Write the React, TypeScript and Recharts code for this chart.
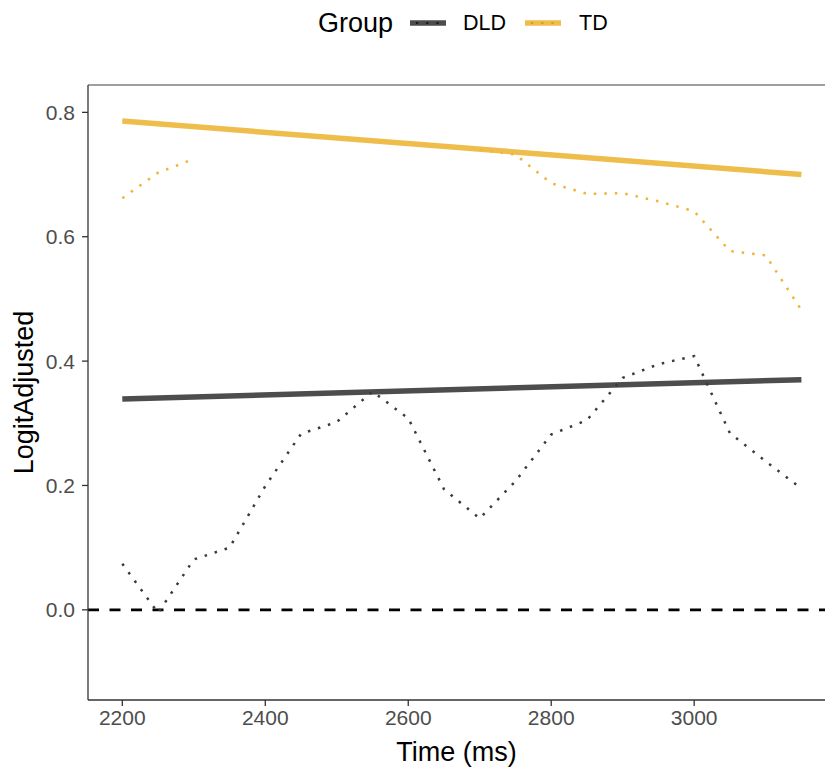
import React from "react";
import {
  LineChart,
  Line,
  XAxis,
  YAxis,
  ReferenceLine,
  Label,
} from "recharts";

// observed group means, 50 ms bins
const times = [
  2200, 2250, 2300, 2350, 2400, 2450, 2500, 2550, 2600, 2650,
  2700, 2750, 2800, 2850, 2900, 2950, 3000, 3050, 3100, 3150,
];
const dldLogit = [
  0.074, -0.005, 0.081, 0.1, 0.199, 0.283, 0.302, 0.351, 0.308, 0.194,
  0.147, 0.207, 0.282, 0.305, 0.373, 0.395, 0.408, 0.284, 0.239, 0.195,
];
// nulls = values above the plotted range (dropped)
const tdLogit = [
  0.662, 0.703, 0.725, null, null, null, null, null, null, null,
  0.74, 0.732, 0.686, 0.669, 0.67, 0.657, 0.641, 0.577, 0.57, 0.482,
];

// linear fits
const fitTimes = [2200, 3150];
const dldFit = [0.339, 0.37];
const tdFit = [0.786, 0.7];

const xTicks = [2200, 2400, 2600, 2800, 3000];
const yTicks = [0, 0.2, 0.4, 0.6, 0.8];
const xDomain = [2152, 3183];
const yDomain = [-0.145, 0.844];

const DLD_COLOR = "#4d4d4d";
const DLD_DOT = "#3a3a3a";
const TD_COLOR = "#efbd4c";
const TD_DOT = "#f0b43a";
const FONT = "'Liberation Sans', Arial, sans-serif";

const observed = times.map((t, i) => ({ time: t, DLD: dldLogit[i], TD: tdLogit[i] }));
const fitted = fitTimes.map((t, i) => ({ time: t, DLD: dldFit[i], TD: tdFit[i] }));

function LegendKey({ solid, dot }: { solid: string; dot: string }) {
  return (
    <svg width={36} height={12} style={{ display: "block" }}>
      <line x1={0} y1={6} x2={36} y2={6} stroke={solid} strokeWidth={5.5} />
      <line
        x1={0}
        y1={6}
        x2={36}
        y2={6}
        stroke={dot}
        strokeWidth={2.2}
        strokeDasharray="2.2 8"
        strokeDashoffset={-6}
      />
    </svg>
  );
}

function GroupLegend() {
  return (
    <div
      style={{
        position: "absolute",
        top: 6,
        left: 318,
        display: "flex",
        alignItems: "center",
        fontFamily: FONT,
        color: "#000",
        height: 34,
      }}
    >
      <span style={{ fontSize: 27 }}>Group</span>
      <span style={{ marginLeft: 17 }}>
        <LegendKey solid={DLD_COLOR} dot="#1a1a1a" />
      </span>
      <span style={{ fontSize: 21.5, marginLeft: 17 }}>DLD</span>
      <span style={{ marginLeft: 19 }}>
        <LegendKey solid={TD_COLOR} dot="#d99a22" />
      </span>
      <span style={{ fontSize: 21.5, marginLeft: 18 }}>TD</span>
    </div>
  );
}

export default function App() {
  return (
    <div
      style={{
        position: "absolute",
        left: 0,
        top: 0,
        width: 825,
        height: 772,
        background: "#fff",
        overflow: "hidden",
      }}
    >
      <GroupLegend />
      <LineChart
        width={825}
        height={772}
        margin={{ top: 85, right: 0, left: 0, bottom: 0 }}
      >
        <XAxis
          dataKey="time"
          type="number"
          domain={xDomain}
          ticks={xTicks}
          allowDataOverflow
          height={72}
          tickSize={6}
          tickMargin={4}
          tick={{ fontSize: 21, fill: "#4d4d4d", fontFamily: FONT }}
          axisLine={{ stroke: "#333", strokeWidth: 1.3 }}
          tickLine={{ stroke: "#333", strokeWidth: 1.3 }}
        >
          <Label
            value="Time (ms)"
            position="insideBottom"
            offset={11}
            style={{ fontSize: 27, fill: "#000", fontFamily: FONT }}
          />
        </XAxis>
        <YAxis
          type="number"
          domain={yDomain}
          ticks={yTicks}
          allowDataOverflow
          width={88}
          tickSize={6}
          tickMargin={7}
          tickFormatter={(v) => Number(v).toFixed(1)}
          tick={{ fontSize: 21, fill: "#4d4d4d", fontFamily: FONT }}
          axisLine={{ stroke: "#333", strokeWidth: 1.3 }}
          tickLine={{ stroke: "#333", strokeWidth: 1.3 }}
        >
          <Label
            content={(props: any) => {
              const vb = props.viewBox || {};
              const cx = (vb.x || 0) + 33;
              const cy = (vb.y || 0) + (vb.height || 0) / 2;
              return (
                <text
                  x={cx}
                  y={cy}
                  transform={`rotate(-90, ${cx}, ${cy})`}
                  textAnchor="middle"
                  style={{ fontSize: 27, fill: "#000", fontFamily: FONT }}
                >
                  LogitAdjusted
                </text>
              );
            }}
          />
        </YAxis>
        <ReferenceLine y={yDomain[1]} stroke="#7f7f7f" strokeWidth={1.5} />
        <ReferenceLine y={0} stroke="#000" strokeWidth={2.7} strokeDasharray="11 10.5" />
        <Line
          data={fitted}
          dataKey="TD"
          stroke={TD_COLOR}
          strokeWidth={5.5}
          dot={false}
          activeDot={false}
          isAnimationActive={false}
        />
        <Line
          data={fitted}
          dataKey="DLD"
          stroke={DLD_COLOR}
          strokeWidth={5.5}
          dot={false}
          activeDot={false}
          isAnimationActive={false}
        />
        <Line
          data={observed}
          dataKey="TD"
          stroke={TD_DOT}
          strokeWidth={2.5}
          strokeDasharray="2.5 8"
          dot={false}
          activeDot={false}
          isAnimationActive={false}
        />
        <Line
          data={observed}
          dataKey="DLD"
          stroke={DLD_DOT}
          strokeWidth={2.5}
          strokeDasharray="2.5 8"
          dot={false}
          activeDot={false}
          isAnimationActive={false}
        />
      </LineChart>
    </div>
  );
}
